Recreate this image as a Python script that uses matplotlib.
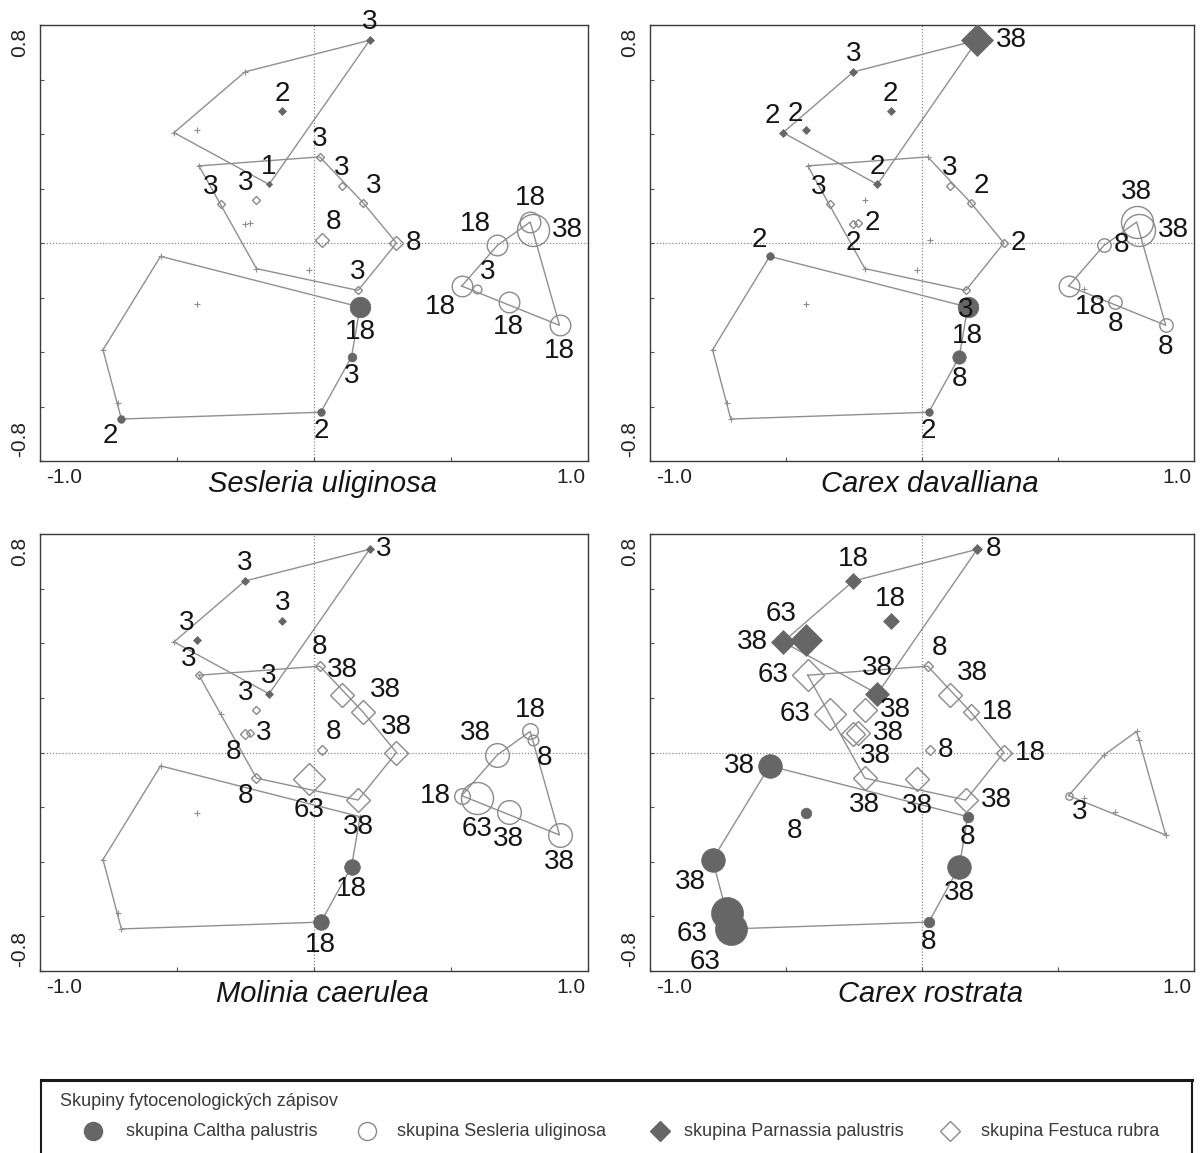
import matplotlib
matplotlib.use("Agg")
import matplotlib.pyplot as plt

plt.rcParams["font.family"] = ["Liberation Sans", "DejaVu Sans"]

W, H, DPI = 1202, 1153, 100
PT = 72 / DPI  # points per pixel

species = ["Sesleria uliginosa", "Carex davalliana", "Molinia caerulea", "Carex rostrata"]
group_names = ["skupina Caltha palustris", "skupina Sesleria uliginosa",
               "skupina Parnassia palustris", "skupina Festuca rubra"]
legend_title = "Skupiny fytocenologických zápisov"

# releve scores, same ordination in every panel
caltha_x = [-0.560, -0.770, -0.717, -0.703, 0.025, 0.137, 0.168, -0.427]
caltha_y = [-0.049, -0.392, -0.587, -0.646, -0.621, -0.418, -0.235, -0.223]
sesleria_x = [0.539, 0.669, 0.789, 0.798, 0.896, 0.595, 0.711]
sesleria_y = [-0.158, -0.009, 0.077, 0.046, -0.302, -0.168, -0.217]
parnassia_x = [-0.511, -0.252, 0.203, -0.164, -0.427, -0.115]
parnassia_y = [0.405, 0.628, 0.744, 0.215, 0.413, 0.483]
festuca_x = [-0.420, 0.021, 0.102, 0.179, 0.301, 0.161, -0.210,
             -0.339, -0.210, 0.028, -0.252, -0.235, -0.017]
festuca_y = [0.283, 0.316, 0.209, 0.148, 0.000, -0.174, -0.094,
             0.142, 0.157, 0.010, 0.068, 0.073, -0.098]

# cover of the species in each releve (0 = absent, drawn as +)
cover_caltha = {
    "Sesleria uliginosa": [0, 0, 0, 2, 2, 3, 18, 0],
    "Carex davalliana": [2, 0, 0, 0, 2, 8, 18, 0],
    "Molinia caerulea": [0, 0, 0, 0, 18, 18, 0, 0],
    "Carex rostrata": [38, 38, 63, 63, 8, 38, 8, 8],
}
cover_sesleria = {
    "Sesleria uliginosa": [18, 18, 18, 38, 18, 3, 18],
    "Carex davalliana": [18, 8, 38, 38, 8, 0, 8],
    "Molinia caerulea": [18, 38, 18, 8, 38, 63, 38],
    "Carex rostrata": [3, 0, 0, 0, 0, 0, 0],
}
cover_parnassia = {
    "Sesleria uliginosa": [0, 0, 3, 1, 0, 2],
    "Carex davalliana": [2, 3, 38, 2, 2, 2],
    "Molinia caerulea": [0, 3, 3, 3, 3, 3],
    "Carex rostrata": [38, 18, 8, 38, 63, 18],
}
cover_festuca = {
    "Sesleria uliginosa": [0, 3, 3, 3, 8, 3, 0, 3, 3, 8, 0, 0, 0],
    "Carex davalliana": [0, 0, 3, 2, 2, 3, 0, 3, 0, 0, 2, 2, 0],
    "Molinia caerulea": [3, 8, 38, 38, 38, 38, 8, 0, 3, 8, 8, 3, 63],
    "Carex rostrata": [63, 8, 38, 18, 18, 38, 38, 63, 38, 8, 38, 38, 38],
}

# where the number sits around each marker
lab_caltha = {
    "Sesleria uliginosa": ["-", "-", "-", "SW", "S", "S", "S", "-"],
    "Carex davalliana": ["NW", "-", "-", "-", "S", "S", "SS", "-"],
    "Molinia caerulea": ["-", "-", "-", "-", "S", "S", "-", "-"],
    "Carex rostrata": ["W", "SW", "WSW", "SSW", "S", "S", "S", "SW"],
}
lab_sesleria = {
    "Sesleria uliginosa": ["SW", "NW", "N", "E", "S", "NE", "S"],
    "Carex davalliana": ["SE", "E", "N", "E", "S", "-", "S"],
    "Molinia caerulea": ["W", "NW", "N", "SE", "S", "S", "S"],
    "Carex rostrata": ["SE", "-", "-", "-", "-", "-", "-"],
}
lab_parnassia = {
    "Sesleria uliginosa": ["-", "-", "N", "N", "-", "N"],
    "Carex davalliana": ["NW", "N", "E", "N", "NW", "N"],
    "Molinia caerulea": ["-", "N", "E", "N", "NW", "N"],
    "Carex rostrata": ["W", "N", "E", "N", "NW", "N"],
}
lab_festuca = {
    "Sesleria uliginosa": ["-", "N", "N", "NE", "E", "N", "-", "NW", "NW", "NE", "-", "-", "-"],
    "Carex davalliana": ["-", "-", "N", "NE", "E", "S", "-", "NW", "-", "-", "S", "E", "-"],
    "Molinia caerulea": ["NW", "N", "N", "NE", "N", "S", "SW", "-", "NW", "NE", "SW", "E", "S"],
    "Carex rostrata": ["W", "NE", "NE", "E", "E", "E", "S", "W", "E", "E", "SE", "E", "S"],
}

FILL = "#666666"
OPEN = "#8a8a8a"
LINE = "#8f8f8f"

groups = [
    (caltha_x, caltha_y, cover_caltha, lab_caltha, "o", True),
    (sesleria_x, sesleria_y, cover_sesleria, lab_sesleria, "o", False),
    (parnassia_x, parnassia_y, cover_parnassia, lab_parnassia, "D", True),
    (festuca_x, festuca_y, cover_festuca, lab_festuca, "D", False),
]


def hull(xs, ys):
    pts = sorted(set(zip(xs, ys)))

    def cross(o, a, b):
        return (a[0] - o[0]) * (b[1] - o[1]) - (a[1] - o[1]) * (b[0] - o[0])

    lower, upper = [], []
    for p in pts:
        while len(lower) >= 2 and cross(lower[-2], lower[-1], p) <= 0:
            lower.pop()
        lower.append(p)
    for p in reversed(pts):
        while len(upper) >= 2 and cross(upper[-2], upper[-1], p) <= 0:
            upper.pop()
        upper.append(p)
    ring = lower[:-1] + upper[:-1]
    ring.append(ring[0])
    return [p[0] for p in ring], [p[1] for p in ring]


def diameter(v, vmax):
    # marker diameter in pixels
    return 4 + 28 * (v / vmax) ** 0.7


def label_offset(code, r):
    d = {
        "N": (0, r + 1, "center", "bottom"),
        "S": (0, -(r + 2), "center", "top"),
        "SS": (0, -(r + 6), "center", "top"),
        "E": (r + 3, 0, "left", "center"),
        "W": (-(r + 3), 0, "right", "center"),
        "NE": (0.5 * r + 1, 0.7 * r + 1, "left", "bottom"),
        "NW": (-(0.5 * r + 1), 0.7 * r + 1, "right", "bottom"),
        "SE": (0.5 * r + 1, -(0.7 * r + 1), "left", "top"),
        "SW": (-(0.5 * r + 1), -(0.7 * r + 1), "right", "top"),
        "WSW": (-(r + 3), -0.5 * r, "right", "top"),
        "SSW": (-(r + 10), -(r + 4), "center", "top"),
    }[code]
    return d[0] * PT, d[1] * PT, d[2], d[3]


def draw_panel(ax, name):
    ax.set_xlim(-1.0, 1.0)
    ax.set_ylim(-0.8, 0.8)
    ax.axhline(0, color="#8a8a8a", lw=0.9, ls=(0, (1, 1.5)), zorder=1)
    ax.axvline(0, color="#8a8a8a", lw=0.9, ls=(0, (1, 1.5)), zorder=1)
    vmax = max(max(g[2][name]) for g in groups)

    for xs, ys, cover, labs, mk, filled in groups:
        hx, hy = hull(xs, ys)
        ax.plot(hx, hy, color=LINE, lw=1.0, zorder=2)
        for x, y, v, code in zip(xs, ys, cover[name], labs[name]):
            if v == 0:
                ax.plot(x, y, marker="+", ms=4, mew=0.8, color=LINE, zorder=3)
                continue
            dpx = diameter(v, vmax)
            ms = dpx * PT if mk == "o" else dpx * PT / 1.414
            if filled:
                ax.plot(x, y, marker=mk, ms=ms, mfc=FILL, mec=FILL, mew=0.5,
                        ls="none", zorder=4)
            else:
                ax.plot(x, y, marker=mk, ms=ms, mfc="none", mec=OPEN, mew=1.0,
                        ls="none", zorder=4)
            if code != "-":
                dx, dy, ha, va = label_offset(code, dpx / 2)
                ax.annotate(str(v), (x, y), xytext=(dx, dy), textcoords="offset points",
                            ha=ha, va=va, fontsize=20, color="#151515", zorder=6,
                            annotation_clip=False)

    ax.set_xticks([-1.0, -0.5, 0.0, 0.5, 1.0])
    ax.set_yticks([-0.8, -0.6, -0.4, -0.2, 0.0, 0.2, 0.4, 0.6, 0.8])
    ax.set_xticklabels([])
    ax.set_yticklabels([])
    ax.tick_params(direction="in", length=3, width=0.8, color="#555555")
    for s in ax.spines.values():
        s.set_color("#3a3a3a")
        s.set_linewidth(1.0)

    tk = dict(fontsize=15, color="#222222", transform=ax.transAxes)
    ax.text(0.012, -0.037, "-1.0", ha="left", va="center", **tk)
    ax.text(0.995, -0.037, "1.0", ha="right", va="center", **tk)
    ax.text(-0.037, 0.993, "0.8", rotation=90, ha="center", va="top", **tk)
    ax.text(-0.037, 0.009, "-0.8", rotation=90, ha="center", va="bottom", **tk)
    ax.text(0.515, -0.052, name, ha="center", va="center", fontsize=21,
            style="italic", color="#151515", transform=ax.transAxes)


fig = plt.figure(figsize=(W / DPI, H / DPI), dpi=DPI)

boxes = [
    (40, 25, 588, 461),
    (650, 25, 1194, 461),
    (40, 534, 588, 971),
    (650, 534, 1194, 971),
]
for name, (x0, y0, x1, y1) in zip(species, boxes):
    ax = fig.add_axes([x0 / W, 1 - y1 / H, (x1 - x0) / W, (y1 - y0) / H])
    draw_panel(ax, name)

# legend box, cut by the lower edge of the picture
lx0, lx1, ly0 = 41, 1192, 1080
lg = fig.add_axes([lx0 / W, 0, (lx1 - lx0) / W, (H - ly0) / H])
lg.set_xlim(lx0, lx1)
lg.set_ylim(H, ly0)
lg.set_xticks([])
lg.set_yticks([])
lg.patch.set_alpha(0)
lg.spines["bottom"].set_visible(False)
lg.spines["top"].set_linewidth(2.2)
for s in ("left", "right"):
    lg.spines[s].set_linewidth(1.5)
for s in lg.spines.values():
    s.set_color("#1a1a1a")

lg.text(60, 1101, legend_title, ha="left", va="center", fontsize=13, color="#3a3a3a")
marker_x = [93, 367, 660, 950]
text_x = [126, 397, 684, 981]
styles = [("o", True), ("o", False), ("D", True), ("D", False)]
for mx, tx, (mk, filled), label in zip(marker_x, text_x, styles, group_names):
    ms = 13 if mk == "o" else 10
    if filled:
        lg.plot(mx, 1131, marker=mk, ms=ms, mfc=FILL, mec=FILL, ls="none")
    else:
        lg.plot(mx, 1131, marker=mk, ms=ms, mfc="none", mec=OPEN, mew=1.0, ls="none")
    lg.text(tx, 1132, label, ha="left", va="center", fontsize=13, color="#3a3a3a")

fig.savefig("out.png", dpi=DPI)
